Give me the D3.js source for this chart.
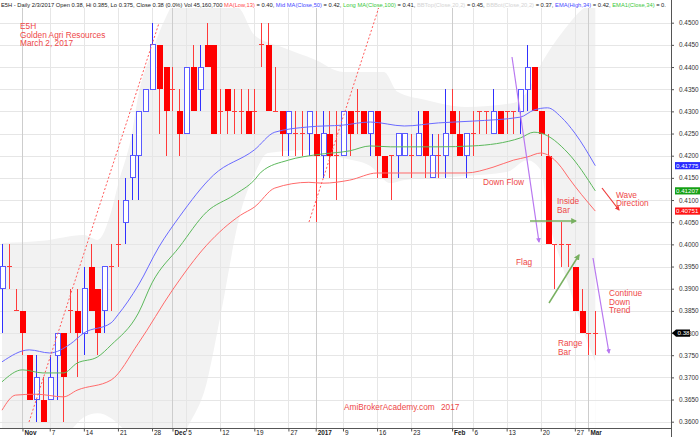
<!DOCTYPE html>
<html><head><meta charset="utf-8">
<script src="https://cdn.jsdelivr.net/npm/d3@7"></script>
<style>
html,body{margin:0;padding:0;background:#fff;}
svg{display:block;font-family:"Liberation Sans",Arial,sans-serif;}
</style></head><body>
<svg id="chart" width="700" height="437"></svg>
<script>
// ---------------- DATA ----------------
const dates = [
 "2016-10-27","2016-10-28","2016-10-31",
 "2016-11-01","2016-11-02","2016-11-03","2016-11-04","2016-11-07","2016-11-08","2016-11-09","2016-11-10","2016-11-11",
 "2016-11-14","2016-11-15","2016-11-16","2016-11-17","2016-11-18","2016-11-21","2016-11-22","2016-11-23","2016-11-24","2016-11-25",
 "2016-11-28","2016-11-29","2016-11-30",
 "2016-12-01","2016-12-02","2016-12-05","2016-12-06","2016-12-07","2016-12-08","2016-12-09","2016-12-12","2016-12-13","2016-12-14",
 "2016-12-15","2016-12-16","2016-12-19","2016-12-20","2016-12-21","2016-12-22","2016-12-23","2016-12-27","2016-12-28","2016-12-29","2016-12-30",
 "2017-01-03","2017-01-04","2017-01-05","2017-01-06","2017-01-09","2017-01-10","2017-01-11","2017-01-12","2017-01-13",
 "2017-01-16","2017-01-17","2017-01-18","2017-01-19","2017-01-20","2017-01-23","2017-01-24","2017-01-25","2017-01-26","2017-01-27","2017-01-31",
 "2017-02-01","2017-02-02","2017-02-03","2017-02-06","2017-02-07","2017-02-08","2017-02-09","2017-02-10",
 "2017-02-13","2017-02-14","2017-02-15","2017-02-16","2017-02-17","2017-02-20","2017-02-21","2017-02-22","2017-02-23","2017-02-24",
 "2017-02-27","2017-02-28","2017-03-01","2017-03-02"
];
const open = [0.390,0.395,0.385,0.385,0.375,0.365,0.365,0.365,0.375,0.380,
 0.385,0.385,0.380,0.395,0.390,0.385,0.395,0.400,0.405,0.415,
 0.420,0.430,0.435,0.445,0.440,0.435,0.430,0.425,0.440,0.435,
 0.445,0.445,0.430,0.435,0.430,0.430,0.430,0.430,0.445,0.445,
 0.430,0.430,0.425,0.425,0.425,0.425,0.425,0.420,0.425,0.420,
 0.420,0.430,0.430,0.430,0.425,0.430,0.420,0.420,0.420,0.420,
 0.420,0.420,0.430,0.415,0.420,0.420,0.430,0.425,0.420,0.425,
 0.430,0.430,0.425,0.430,0.430,0.430,0.430,0.435,0.440,0.430,
 0.420,0.400,0.400,0.400,0.395,0.385,0.380,0.380];
const high = [0.400,0.400,0.390,0.385,0.375,0.375,0.370,0.375,0.380,0.380,
 0.390,0.390,0.395,0.400,0.390,0.395,0.400,0.410,0.415,0.425,
 0.430,0.435,0.450,0.445,0.440,0.440,0.435,0.440,0.445,0.445,
 0.450,0.445,0.435,0.435,0.435,0.435,0.435,0.435,0.450,0.450,
 0.440,0.430,0.430,0.430,0.430,0.430,0.430,0.430,0.430,0.430,
 0.430,0.430,0.435,0.430,0.430,0.430,0.420,0.420,0.425,0.425,
 0.425,0.430,0.430,0.425,0.425,0.435,0.435,0.430,0.425,0.430,
 0.430,0.430,0.435,0.430,0.430,0.430,0.435,0.445,0.440,0.430,
 0.425,0.400,0.405,0.400,0.395,0.390,0.380,0.385];
const low = [0.380,0.390,0.385,0.375,0.365,0.360,0.360,0.365,0.365,0.360,
 0.380,0.370,0.375,0.385,0.375,0.380,0.385,0.395,0.400,0.410,
 0.410,0.430,0.435,0.425,0.420,0.430,0.420,0.425,0.430,0.430,
 0.440,0.425,0.425,0.425,0.425,0.425,0.425,0.425,0.440,0.430,
 0.430,0.420,0.420,0.420,0.420,0.420,0.405,0.415,0.415,0.410,
 0.420,0.420,0.425,0.425,0.420,0.415,0.415,0.410,0.415,0.420,
 0.415,0.420,0.415,0.415,0.415,0.415,0.425,0.420,0.415,0.420,
 0.425,0.425,0.425,0.425,0.425,0.425,0.425,0.430,0.430,0.420,
 0.400,0.390,0.395,0.395,0.385,0.380,0.375,0.375];
const close = [0.395,0.395,0.385,0.380,0.365,0.370,0.360,0.370,0.380,0.370,
 0.385,0.380,0.390,0.385,0.380,0.395,0.395,0.400,0.410,0.420,
 0.430,0.435,0.445,0.435,0.430,0.435,0.425,0.440,0.430,0.440,
 0.440,0.425,0.430,0.430,0.430,0.430,0.425,0.430,0.445,0.430,
 0.430,0.425,0.430,0.425,0.425,0.430,0.420,0.425,0.420,0.420,
 0.430,0.425,0.430,0.425,0.430,0.420,0.415,0.420,0.425,0.425,
 0.420,0.425,0.420,0.420,0.420,0.425,0.425,0.420,0.425,0.425,
 0.430,0.430,0.430,0.425,0.430,0.430,0.435,0.440,0.430,0.425,
 0.400,0.400,0.400,0.400,0.385,0.380,0.380,0.380];

// indicator readings: [bar index, value]
const emaHigh34 = [[0,.3735],[4,.3762],[7,.3755],[10,.3775],[12,.3800],[16,.3823],[17,.3841],[20,.3908],[23,.3994],[26,.4062],
 [31,.4156],[37,.4213],[40,.4253],[45,.4265],[50,.4269],[54,.4276],[59,.4267],[64,.4274],[69,.4278],[76,.4287],[78,.4303],
 [80,.4308],[82,.4287],[84,.4251],[87,.41775]];
const emaClose34 = [[0,.3690],[3,.3717],[6,.3710],[9,.3710],[11,.3732],[14,.3746],[16,.3773],[20,.3845],[22,.3913],[26,.3994],
 [30,.4073],[34,.4111],[37,.4145],[38,.4163],[42,.4190],[46,.4202],[51,.4211],[54,.4222],[57,.4220],[64,.4220],[69,.4222],
 [76,.4240],[78,.4253],[79,.4251],[83,.4206],[87,.41207]];
const emaLow = [[0,.3626],[2,.3660],[5,.3662],[9,.3656],[11,.3671],[16,.3694],[20,.3777],[25,.3897],[30,.3998],[35,.4066],
 [37,.4084],[40,.4127],[45,.4140],[47,.4138],[51,.4145],[55,.4161],[62,.4161],[68,.4161],[72,.4174],[75,.4190],[77,.4197],
 [79,.4206],[80,.4202],[82,.4174],[83,.4152],[87,.40751]];
const bbTop = [[0,.4003],[6,.4008],[12,.4021],[14,.4010],[16,.4073],[17,.4134],[19,.4246],[20,.4337],[22,.4434],[24,.4511],
 [25,.4538],[28,.4547],[34,.4544],[35,.4529],[37,.4472],[41,.4445],[46,.4416],[50,.4389],[56,.4389],[58,.4344],[62,.4326],
 [68,.4310],[75,.4319],[77,.4344],[79,.4405],[81,.4454],[83,.4495],[85,.4529],[87,.4549]];
const bbBot = [[0,.3520],[6,.3540],[10,.3580],[12,.3610],[14,.3619],[16,.3608],[18,.3580],[20,.3540],[24,.3520],[26,.3547],
 [27,.3581],[30,.3687],[32,.3836],[35,.4073],[37,.4157],[39,.4206],[45,.4213],[50,.4195],[54,.4177],[57,.4138],[59,.4145],
 [68,.4154],[74,.4163],[77,.4190],[79,.4168],[80,.4071],[82,.3960],[84,.3863],[86,.3773],[87,.3735]];

const yTicks = [0.360,0.365,0.370,0.375,0.380,0.385,0.390,0.395,0.400,0.405,0.410,0.415,0.420,0.425,0.430,0.435,0.440,0.445,0.450];
const xTickDates = ["2016-11-01","2016-11-07","2016-11-14","2016-11-21","2016-11-28","2016-12-01","2016-12-05","2016-12-12",
 "2016-12-19","2016-12-27","2017-01-03","2017-01-09","2017-01-16","2017-01-23","2017-02-01","2017-02-06","2017-02-13",
 "2017-02-20","2017-02-27","2017-03-01"];
const xTickLabels = ["Nov","7","14","21","28","Dec","5","12","19","27","2017","9","16","23","Feb","6","13","20","27","Mar"];
const monthLabels = ["Nov","Dec","2017","Feb","Mar"];

const headerParts = [
 ["E5H - Daily 2/3/2017 Open 0.38, Hi 0.385, Lo 0.375, Close 0.38 (0.0%) Vol 45,160,700 ","#222"],
 ["MA(Low,13)","#ff4a4a"],[" = 0.40, ","#222"],
 ["Mid MA(Close,50)","#4a4aff"],[" = 0.42, ","#222"],
 ["Long MA(Close,100)","#3cc83c"],[" = 0.41, ","#222"],
 ["BBTop(Close,20,2)","#d4d4d4"],[" = 0.45, ","#222"],
 ["BBBot(Close,20,2)","#d4d4d4"],[" = 0.37, ","#222"],
 ["EMA(High,34)","#4a4aff"],[" = 0.42, ","#222"],
 ["EMA1(Close,34)","#3cc83c"],[" = 0.","#222"]
];

// ---------------- LAYOUT ----------------
const svg = d3.select("#chart");
const PR = 671, PT = 8, PB = 428.5;
const x = d3.scaleLinear().domain([0, 87]).range([2, 595.3]);
const y = d3.scaleLinear().domain([0.36, 0.45]).range([421.7, 22.7]);
const idx = d => dates.indexOf(d);

svg.append("rect").attr("width",700).attr("height",437).attr("fill","#fff");
const defs = svg.append("defs");
defs.append("clipPath").attr("id","plot").append("rect").attr("x",0).attr("y",PT).attr("width",PR).attr("height",PB-PT);
function marker(id, color){
  defs.append("marker").attr("id",id).attr("viewBox","0 0 10 10").attr("refX",8).attr("refY",5)
   .attr("markerWidth",4).attr("markerHeight",4).attr("orient","auto")
   .append("path").attr("d","M0,0L10,5L0,10z").attr("fill",color);
}
marker("mPurple","#b877f0"); marker("mGreen","#78b060"); marker("mRed","#ee3a3a");

const plot = svg.append("g").attr("clip-path","url(#plot)");

// Bollinger band cloud
plot.append("path").datum(bbTop)
  .attr("d", d3.area().x(d=>x(d[0])).y0(PB).y1(d=>y(d[1])).curve(d3.curveMonotoneX))
  .attr("fill","#f2f2f2");
plot.append("path").datum(bbBot)
  .attr("d", d3.area().x(d=>x(d[0])).y0(PB+30).y1(d=>y(d[1])).curve(d3.curveMonotoneX))
  .attr("fill","#fff");

// grid
plot.append("g").selectAll("line").data(yTicks).join("line")
  .attr("x1",0).attr("x2",PR).attr("y1",d=>Math.round(y(d))+0.5).attr("y2",d=>Math.round(y(d))+0.5)
  .attr("stroke","#e6e6e6").attr("stroke-width",1);
plot.append("g").selectAll("line").data(xTickDates).join("line")
  .attr("x1",d=>Math.round(x(idx(d)))+0.5).attr("x2",d=>Math.round(x(idx(d)))+0.5)
  .attr("y1",PT).attr("y2",PB)
  .attr("stroke",(d,i)=>monthLabels.includes(xTickLabels[i])?"#cdcdcd":"#e6e6e6").attr("stroke-width",1);

// candles
const bars = dates.map((d,i)=>({i, o:open[i], h:high[i], l:low[i], c:close[i]}));
const cg = plot.append("g").attr("shape-rendering","crispEdges");
bars.forEach(b=>{
  const cx = Math.round(x(b.i)) + 0.5;
  const up = b.c > b.o, flat = b.c === b.o;
  const wickCol = up ? "#3030ff" : "#ff3a3a";
  cg.append("line").attr("x1",cx).attr("x2",cx).attr("y1",y(b.h)).attr("y2",y(b.l))
    .attr("stroke",wickCol).attr("stroke-width",1);
  if (flat) {
    cg.append("line").attr("x1",cx-2.5).attr("x2",cx+2.5).attr("y1",y(b.o)).attr("y2",y(b.o))
      .attr("stroke","#ff3a3a").attr("stroke-width",1);
  } else if (up) {
    cg.append("rect").attr("x",cx-2.5).attr("y",y(b.c)).attr("width",5).attr("height",y(b.o)-y(b.c))
      .attr("fill","#fff").attr("stroke","#5a5aff").attr("stroke-width",1);
  } else {
    cg.append("rect").attr("x",cx-3).attr("y",y(b.o)).attr("width",6).attr("height",y(b.c)-y(b.o))
      .attr("fill","#ff0000");
  }
});

// indicator lines
const line = d3.line().x(d=>x(d[0])).y(d=>y(d[1])).curve(d3.curveMonotoneX);
[[emaLow,"#ff6a6a"],[emaClose34,"#5cb85c"],[emaHigh34,"#6a6aff"]].forEach(([s,c])=>{
  plot.append("path").datum(s).attr("d",line).attr("fill","none").attr("stroke",c).attr("stroke-width",1);
});

// annotation lines
const ann = plot.append("g");
const seg = (x1,y1,x2,y2,col,opt={})=>{
  const l = ann.append("line").attr("x1",x1).attr("y1",y1).attr("x2",x2).attr("y2",y2)
    .attr("stroke",col).attr("stroke-width",opt.w||1.2);
  if (opt.dash) l.attr("stroke-dasharray",opt.dash);
  if (opt.m) l.attr("marker-end","url(#"+opt.m+")");
};
seg(29,422,159,23,"#ff5a5a",{dash:"2,2",w:1});
seg(309,222,379,7,"#ff5a5a",{dash:"2,2",w:1});
seg(512,57,539,242,"#b877f0",{m:"mPurple"});
seg(593,258,609,353,"#b877f0",{m:"mPurple"});
seg(530,221,576,221,"#78b060",{m:"mGreen",w:1.5});
seg(549,303,579,255,"#78b060",{m:"mGreen",w:1.5});
seg(602,188,619,210,"#ee3a3a",{m:"mRed"});

// annotation texts
const txtCol = "#ee4848";
const notes = [
 ["E5H",20,29.3],["Golden Agri Resources",20,37.8],["March 2, 2017",20,46.3],
 ["Down Flow",483,184.5],["Inside",557,204],["Bar",557,213],
 ["Wave",616,197.5],["Direction",616,206],["Flag",516,264.5],
 ["Continue",609,296],["Down",609,304.5],["Trend",609,313],
 ["Range",558,345.5],["Bar",558,354.5],
 ["AmiBrokerAcademy.com",344,410],["2017",441,410]
];
svg.append("g").selectAll("text").data(notes).join("text")
  .attr("x",d=>d[1]).attr("y",d=>d[2]).text(d=>d[0])
  .attr("fill",txtCol).attr("font-size","8.3px");

// axes
const yAxis = d3.axisRight(y).tickValues(yTicks).tickFormat(d3.format(".4f")).tickSize(3).tickPadding(5);
const ya = svg.append("g").attr("transform",`translate(${PR},0)`).call(yAxis);
ya.select(".domain").remove();
ya.selectAll("line").attr("stroke","#555");
ya.selectAll("text").attr("font-size","6.4px").attr("fill","#333").attr("font-family","Liberation Sans, Arial, sans-serif");
svg.append("line").attr("x1",PR+0.5).attr("x2",PR+0.5).attr("y1",0).attr("y2",437).attr("stroke","#555");

const xAxis = d3.axisBottom(x).tickValues(xTickDates.map(idx))
  .tickFormat((d,i)=>xTickLabels[i]).tickSize(3).tickPadding(0);
const xa = svg.append("g").attr("transform",`translate(0,${PB})`).call(xAxis);
xa.select(".domain").remove();
xa.selectAll(".tick line").attr("stroke","#555");
xa.selectAll(".tick text").attr("text-anchor","start").attr("dx","1.5").attr("y",2.3)
  .attr("font-size","6.4px").attr("fill","#222").attr("font-family","Liberation Sans, Arial, sans-serif")
  .attr("font-weight",(d,i)=>monthLabels.includes(xTickLabels[i])?"bold":"normal");
svg.append("line").attr("x1",0).attr("x2",PR).attr("y1",PB).attr("y2",PB).attr("stroke","#555");

// price tags
const last = a => a[a.length-1][1];
const tags = [[last(emaHigh34),"#2a2aff",d3.format(".5f")],[last(emaClose34),"#14a014",d3.format(".5f")],[last(emaLow),"#ff1414",d3.format(".5f")]];
tags.forEach(([v,c,f])=>{
  const yc = y(v);
  svg.append("rect").attr("x",675).attr("y",yc-3.6).attr("width",26).attr("height",7.2).attr("fill",c);
  svg.append("text").attr("x",676).attr("y",yc+2.2).text(f(v)).attr("fill","#fff").attr("font-size","6.2px");
});
{
  const v = close[close.length-1], yc = y(v);
  svg.append("path").attr("d",`M672,${yc}L676,${yc-3.6}H690V${yc+3.6}H676Z`).attr("fill","#000");
  svg.append("text").attr("x",677.5).attr("y",yc+2.2).text(d3.format(".2f")(v)).attr("fill","#fff").attr("font-size","6.2px");
}

// header: one text line, font size fitted to the reference width
const ht = svg.append("text").attr("x",1).attr("y",7.4).attr("font-size","6.3px").style("white-space","pre");
headerParts.forEach(([t,c])=>ht.append("tspan").text(t).attr("fill",c));
const natural = ht.node().getComputedTextLength();
ht.attr("font-size", (6.3 * 667 / natural).toFixed(3) + "px");
</script>
</body></html>
